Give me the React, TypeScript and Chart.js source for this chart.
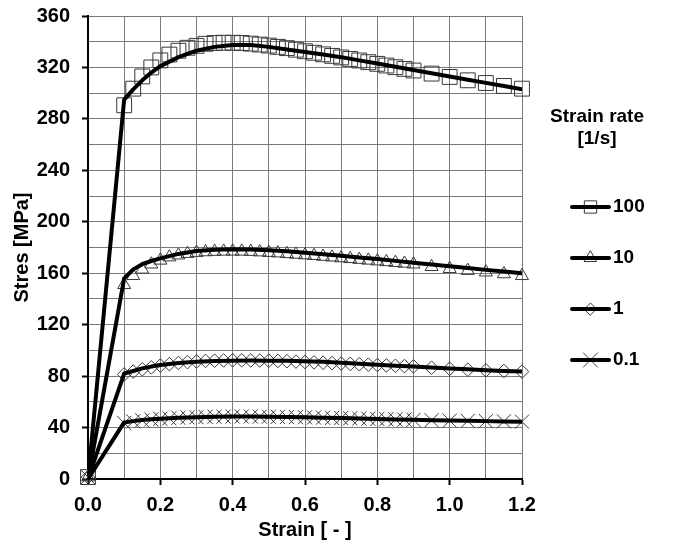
import { useEffect, useRef } from 'react';
import { Chart, registerables } from 'chart.js';
import { drawPoint } from 'chart.js/helpers';

Chart.register(...registerables);

// Fitted (model) curves
const lineStrain = [0, 0.1, 0.125, 0.15, 0.175, 0.2, 0.25, 0.3, 0.35, 0.4, 0.45, 0.5, 0.55, 0.6, 0.65, 0.7, 0.75, 0.8, 0.85, 0.9, 0.95, 1.0, 1.05, 1.1, 1.15, 1.2];
const fit100 = [0, 295, 303, 310, 316, 321, 328, 333, 336, 337.5, 337.5, 336, 334, 332, 330, 328, 325.5, 323, 320.5, 318, 315.5, 313, 310.5, 308, 305.5, 303];
const fit10 = [0, 156, 163, 167, 169.5, 171.5, 175, 177.3, 178.3, 178.6, 178.5, 177.8, 177, 176, 174.8, 173.6, 172.3, 171, 169.6, 168.2, 166.8, 165.4, 164, 162.6, 161.3, 160];
const fit1 = [0, 82, 84, 86, 87.4, 88.6, 90.2, 91.2, 91.8, 92, 92.1, 92, 91.9, 91.6, 91.1, 90.4, 89.7, 88.9, 88.1, 87.4, 86.7, 86, 85.3, 84.6, 84, 83.5];
const fit01 = [0, 44, 45, 45.8, 46.4, 46.9, 47.6, 48.1, 48.4, 48.5, 48.5, 48.4, 48.2, 48, 47.7, 47.4, 47, 46.7, 46.3, 46, 45.7, 45.4, 45.2, 45, 44.8, 44.6];

// Measured points (markers)
const markerStrain = [0, 0.1, 0.125, 0.15, 0.175, 0.2, 0.225, 0.25, 0.275, 0.3, 0.325, 0.35, 0.375, 0.4, 0.425, 0.45, 0.475, 0.5, 0.525, 0.55, 0.575, 0.6, 0.625, 0.65, 0.675, 0.7, 0.725, 0.75, 0.775, 0.8, 0.825, 0.85, 0.875, 0.9, 0.95, 1.0, 1.05, 1.1, 1.15, 1.2];
const exp100 = [1.5, 290.6, 303.5, 313, 320, 325.5, 330, 333, 335.3, 336.8, 338.4, 339, 339.2, 339.2, 339, 338.5, 337.8, 337, 336, 335, 333.8, 332.6, 331.4, 330.2, 329, 327.8, 326.6, 325.4, 324.1, 322.8, 321.5, 320.2, 318.9, 317.6, 315.2, 312.6, 310, 307.9, 305.6, 303.5];
const exp10 = [1.5, 151, 158, 163, 167, 170, 172.5, 174, 175.2, 176, 176.5, 176.8, 177, 177, 177, 176.8, 176.4, 176, 175.6, 175.1, 174.6, 174.1, 173.6, 173, 172.4, 171.8, 171.2, 170.6, 170, 169.4, 168.8, 168.2, 167.6, 167, 165, 163.5, 162, 160.8, 159.4, 158];
const exp1 = [1.5, 81.3, 83.5, 85.3, 86.8, 88.2, 89.3, 90.2, 90.9, 91.4, 91.8, 92, 92.2, 92.3, 92.3, 92.2, 92.1, 92, 91.8, 91.6, 91.3, 91, 90.7, 90.4, 90.1, 89.8, 89.5, 89.2, 88.9, 88.6, 88.3, 88, 87.8, 87.6, 86.5, 85.7, 85, 84.5, 84, 83.5];
const exp01 = [1.5, 43.5, 44.8, 45.6, 46.3, 46.8, 47.2, 47.6, 47.9, 48.1, 48.3, 48.4, 48.5, 48.6, 48.6, 48.6, 48.5, 48.4, 48.3, 48.2, 48.1, 48, 47.8, 47.7, 47.5, 47.4, 47.2, 47, 46.9, 46.7, 46.5, 46.3, 46.2, 46, 45.7, 45.4, 45.2, 45, 44.8, 44.6];

const rateLabels = ['100', '10', '1', '0.1'];
const legendTitle = ['Strain rate', '[1/s]'];
const xTitle = 'Strain [ - ]';
const yTitle = 'Stres [MPa]';

const FONT = '"Liberation Sans", Arial, sans-serif';
const markerStyles = ['rect', 'triangle', 'rectRot', 'crossRot'];
const markerRadii = [10.5, 7.5, 6.8, 10];
const legendRadii = [8.7, 7, 6, 10];
const markerColor = '#383838';

const legendPlugin = {
  id: 'rateLegend',
  afterDraw(chart: any) {
    const ctx = chart.ctx as CanvasRenderingContext2D;
    const area = chart.chartArea;
    const cx = area.right + 75;
    ctx.save();
    ctx.font = `bold 19px ${FONT}`;
    ctx.fillStyle = '#000';
    ctx.textAlign = 'center';
    ctx.textBaseline = 'middle';
    ctx.fillText(legendTitle[0], cx, 117);
    ctx.fillText(legendTitle[1], cx, 139);
    rateLabels.forEach((lab, i) => {
      const y = 207 + i * 51;
      const x0 = area.right + 50;
      const x1 = area.right + 87;
      ctx.save();
      ctx.fillStyle = 'rgba(0,0,0,0)';
      ctx.strokeStyle = markerColor;
      ctx.lineWidth = 1;
      drawPoint(ctx, { pointStyle: markerStyles[i], radius: legendRadii[i], rotation: 0, borderWidth: 1 } as any, (x0 + x1) / 2, y);
      ctx.restore();
      ctx.beginPath();
      ctx.strokeStyle = '#000';
      ctx.lineWidth = 4;
      ctx.lineCap = 'round';
      ctx.moveTo(x0, y);
      ctx.lineTo(x1, y);
      ctx.stroke();
      ctx.fillStyle = '#000';
      ctx.textAlign = 'left';
      ctx.fillText(lab, x1 + 4, y);
    });
    ctx.restore();
  },
};

export default function App() {
  const ref = useRef<HTMLCanvasElement>(null);
  useEffect(() => {
    if (!ref.current) return;
    Chart.defaults.font.family = FONT;
    const fits = [fit100, fit10, fit1, fit01];
    const exps = [exp100, exp10, exp1, exp01];
    const datasets: any[] = [];
    fits.forEach((d, i) => {
      datasets.push({
        type: 'line',
        label: rateLabels[i],
        data: lineStrain.map((x, j) => ({ x, y: d[j] })),
        borderColor: '#000',
        borderWidth: 4,
        borderJoinStyle: 'round',
        borderCapStyle: 'round',
        pointRadius: 0,
        tension: 0,
        fill: false,
        order: 0,
      });
    });
    exps.forEach((d, i) => {
      datasets.push({
        type: 'line',
        label: rateLabels[i] + ' measured',
        data: markerStrain.map((x, j) => ({ x, y: d[j] })),
        showLine: false,
        pointStyle: markerStyles[i],
        pointRadius: markerRadii[i],
        pointBorderColor: markerColor,
        pointBackgroundColor: 'rgba(0,0,0,0)',
        pointBorderWidth: 1,
        clip: false,
        order: 1,
      });
    });
    const tickFont = { size: 20, weight: 'bold' as const, family: FONT };
    const chart = new Chart(ref.current, {
      type: 'line',
      data: { datasets },
      plugins: [legendPlugin],
      options: {
        animation: false,
        responsive: false,
        maintainAspectRatio: false,
        devicePixelRatio: 1,
        layout: { autoPadding: false, padding: { left: 0, right: 157, top: 16, bottom: 0 } },
        plugins: { legend: { display: false }, tooltip: { enabled: false } },
        scales: {
          x: {
            type: 'linear',
            min: 0,
            max: 1.2,
            afterFit: (s: any) => { s.height = 66; s.paddingLeft = 0; s.paddingRight = 0; },
            ticks: {
              stepSize: 0.1,
              autoSkip: false,
              maxRotation: 0,
              padding: 8,
              color: '#000',
              font: tickFont,
              callback: (v: any) => (Math.round(Number(v) * 10) % 2 === 0 ? Number(v).toFixed(1) : ''),
            },
            grid: {
              color: '#7a7a7a',
              lineWidth: 1,
              tickLength: 6,
              tickWidth: 2,
              tickColor: (c: any) => (c.tick && Math.round(c.tick.value * 10) % 2 === 0 ? '#000' : 'rgba(0,0,0,0)'),
            },
            border: { color: '#000', width: 2 },
            title: { display: true, text: xTitle, color: '#000', font: tickFont, padding: { top: 0, bottom: 3 } },
          },
          y: {
            type: 'linear',
            min: 0,
            max: 360,
            afterFit: (s: any) => { s.width = 88; s.paddingTop = 0; s.paddingBottom = 0; },
            ticks: {
              stepSize: 20,
              autoSkip: false,
              padding: 12,
              color: '#000',
              font: tickFont,
              callback: (v: any) => (Math.round(Number(v)) % 40 === 0 ? String(v) : ''),
            },
            grid: {
              color: '#7a7a7a',
              lineWidth: 1,
              tickLength: 6,
              tickWidth: 2,
              tickColor: (c: any) => (c.tick && Math.round(c.tick.value) % 40 === 0 ? '#000' : 'rgba(0,0,0,0)'),
            },
            border: { color: '#000', width: 2 },
            title: { display: true, text: yTitle, color: '#000', font: tickFont, padding: { top: 10, bottom: 0 } },
          },
        },
      } as any,
    });
    return () => chart.destroy();
  }, []);
  return (
    <div style={{ position: 'fixed', left: 0, top: 0, width: 679, height: 545, background: '#fff' }}>
      <canvas ref={ref} width={679} height={545} style={{ display: 'block', width: 679, height: 545 }} />
    </div>
  );
}
